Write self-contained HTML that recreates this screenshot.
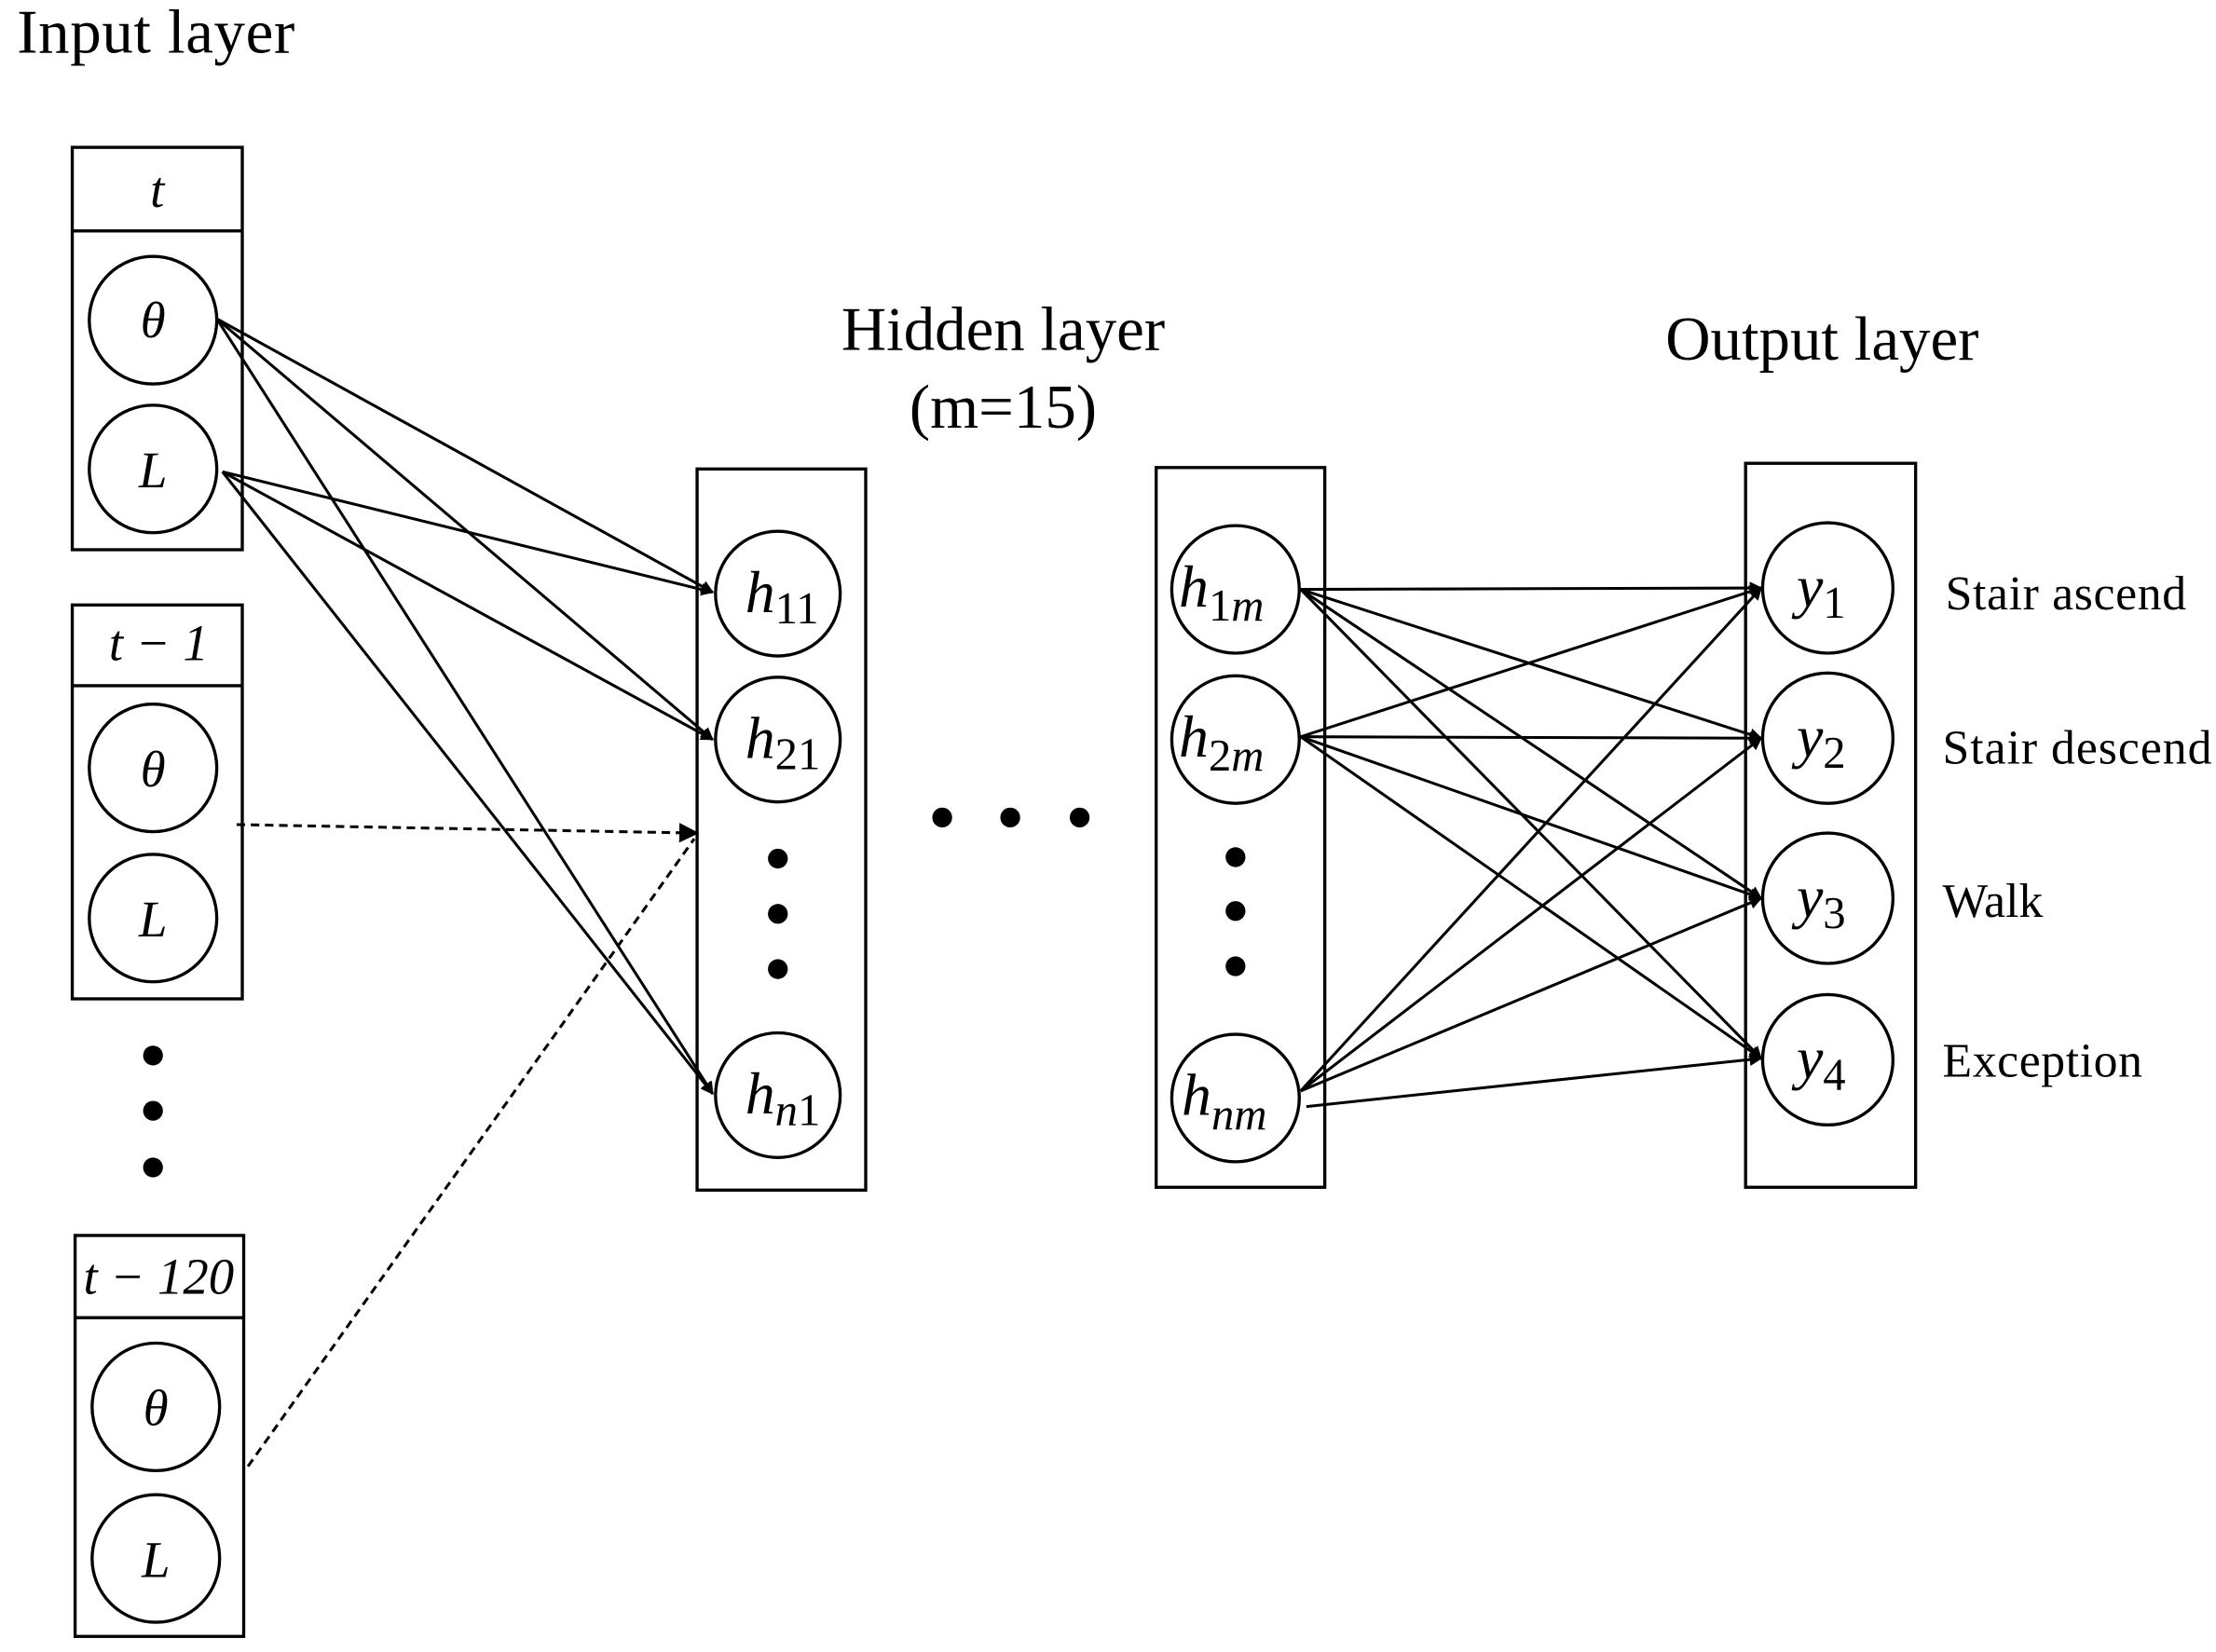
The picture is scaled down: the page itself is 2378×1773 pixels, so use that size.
<!DOCTYPE html>
<html><head><meta charset="utf-8"><style>
html,body{margin:0;padding:0;background:#fff;}
svg{display:block;}
text{font-family:"Liberation Serif",serif;fill:#000;}
.m{font-style:italic;}
</style></head><body>
<svg width="2378" height="1773" viewBox="0 0 1564 1166" preserveAspectRatio="none" xmlns="http://www.w3.org/2000/svg">
<defs>
<marker id="a" viewBox="0 0 10 10" refX="9" refY="5" markerWidth="11" markerHeight="9" orient="auto" markerUnits="userSpaceOnUse"><path d="M0,0 L10,5 L0,10 z" fill="#000"/></marker>
<marker id="b" viewBox="0 0 10 10" refX="9" refY="5" markerWidth="14" markerHeight="14" orient="auto" markerUnits="userSpaceOnUse"><path d="M0,0 L10,5 L0,10 z" fill="#000"/></marker>
</defs>
<g fill="none" stroke="#000" stroke-width="2.2">
<rect x="51" y="104" width="120" height="284"/><line x1="51" y1="163" x2="171" y2="163"/>
<circle cx="108" cy="226" r="45"/><circle cx="108" cy="331" r="45"/>
<rect x="51" y="427" width="120" height="278"/><line x1="51" y1="484" x2="171" y2="484"/>
<circle cx="108" cy="542" r="45"/><circle cx="108" cy="648" r="45"/>
<rect x="53" y="872" width="119" height="283"/><line x1="53" y1="930" x2="172" y2="930"/>
<circle cx="110" cy="993" r="45"/><circle cx="110" cy="1100" r="45"/>
<rect x="492" y="331" width="119" height="509"/>
<circle cx="549" cy="419" r="44"/><circle cx="549" cy="522" r="44"/><circle cx="549" cy="773" r="44"/>
<rect x="816" y="330" width="119" height="508"/>
<circle cx="872" cy="416" r="45"/><circle cx="872" cy="522" r="45"/><circle cx="872" cy="775" r="45"/>
<rect x="1232" y="327" width="120" height="511"/>
<circle cx="1290" cy="415" r="46"/><circle cx="1290" cy="521" r="46"/><circle cx="1290" cy="634" r="46"/><circle cx="1290" cy="748" r="46"/>
</g>
<g fill="#000">
<circle cx="108" cy="745" r="7"/><circle cx="108" cy="784" r="7"/><circle cx="108" cy="824" r="7"/>
<circle cx="549" cy="606" r="7"/><circle cx="549" cy="645" r="7"/><circle cx="549" cy="684" r="7"/>
<circle cx="665" cy="577" r="7"/><circle cx="713" cy="577" r="7"/><circle cx="762" cy="577" r="7"/>
<circle cx="872" cy="605" r="7"/><circle cx="872" cy="643" r="7"/><circle cx="872" cy="682" r="7"/>
</g>
<g stroke="#000" stroke-width="2" fill="none">
<line x1="153" y1="225" x2="503" y2="418" marker-end="url(#a)"/>
<line x1="153" y1="225" x2="503" y2="522" marker-end="url(#a)"/>
<line x1="153" y1="225" x2="503" y2="772" marker-end="url(#a)"/>
<line x1="157" y1="333" x2="503" y2="418" marker-end="url(#a)"/>
<line x1="157" y1="333" x2="503" y2="522" marker-end="url(#a)"/>
<line x1="157" y1="333" x2="503" y2="772" marker-end="url(#a)"/>
<line x1="167" y1="582" x2="492" y2="588" stroke-dasharray="6,4" marker-end="url(#b)"/>
<line x1="175" y1="1035" x2="490" y2="592" stroke-dasharray="6,4"/>
<line x1="918" y1="416" x2="1243" y2="415" marker-end="url(#a)"/>
<line x1="918" y1="416" x2="1243" y2="521" marker-end="url(#a)"/>
<line x1="918" y1="416" x2="1243" y2="634" marker-end="url(#a)"/>
<line x1="918" y1="416" x2="1243" y2="747" marker-end="url(#a)"/>
<line x1="918" y1="520" x2="1243" y2="415" marker-end="url(#a)"/>
<line x1="918" y1="520" x2="1243" y2="521" marker-end="url(#a)"/>
<line x1="918" y1="520" x2="1243" y2="634" marker-end="url(#a)"/>
<line x1="918" y1="520" x2="1243" y2="747" marker-end="url(#a)"/>
<line x1="918" y1="770" x2="1243" y2="415" marker-end="url(#a)"/>
<line x1="918" y1="770" x2="1243" y2="521" marker-end="url(#a)"/>
<line x1="918" y1="770" x2="1243" y2="634" marker-end="url(#a)"/>
<line x1="922" y1="781" x2="1243" y2="747" marker-end="url(#a)"/>
</g>
<g font-size="44">
<text x="12" y="37" textLength="196">Input layer</text>
<text x="708" y="247" text-anchor="middle">Hidden layer</text>
<text x="708" y="302" text-anchor="middle">(m=15)</text>
<text x="1286" y="254" text-anchor="middle">Output layer</text>
</g>
<g font-size="34">
<text x="1373" y="430" textLength="170">Stair ascend</text>
<text x="1371" y="539" textLength="190">Stair descend</text>
<text x="1371" y="647">Walk</text>
<text x="1371" y="760" textLength="141">Exception</text>
</g>
<g font-size="36" text-anchor="middle">
<text class="m" x="111" y="146">t</text>
<text class="m" x="112" y="466">t − 1</text>
<text class="m" x="112" y="913">t − 120</text>
<text class="m" x="108" y="238">θ</text><text class="m" x="108" y="344">L</text>
<text class="m" x="108" y="555">θ</text><text class="m" x="108" y="661">L</text>
<text class="m" x="110" y="1006">θ</text><text class="m" x="110" y="1113">L</text>
</g>
<g font-size="42">
<text x="526" y="432" class="m">h<tspan font-size="32" dy="8" font-style="normal">11</tspan></text>
<text x="526" y="535" class="m">h<tspan font-size="32" dy="8" font-style="normal">21</tspan></text>
<text x="526" y="786" class="m">h<tspan font-size="32" dy="8" class="m">n</tspan><tspan font-size="32" font-style="normal">1</tspan></text>
<text x="832" y="428" class="m">h<tspan font-size="32" dy="10" font-style="normal">1</tspan><tspan font-size="32">m</tspan></text>
<text x="832" y="534" class="m">h<tspan font-size="32" dy="10" font-style="normal">2</tspan><tspan font-size="32">m</tspan></text>
<text x="834" y="787" class="m">h<tspan font-size="32" dy="10">nm</tspan></text>
<text x="1268" y="428" class="m">y<tspan font-size="32" dy="8" font-style="normal">1</tspan></text>
<text x="1268" y="534" class="m">y<tspan font-size="32" dy="8" font-style="normal">2</tspan></text>
<text x="1268" y="647" class="m">y<tspan font-size="32" dy="8" font-style="normal">3</tspan></text>
<text x="1268" y="761" class="m">y<tspan font-size="32" dy="8" font-style="normal">4</tspan></text>
</g>
</svg>
</body></html>
